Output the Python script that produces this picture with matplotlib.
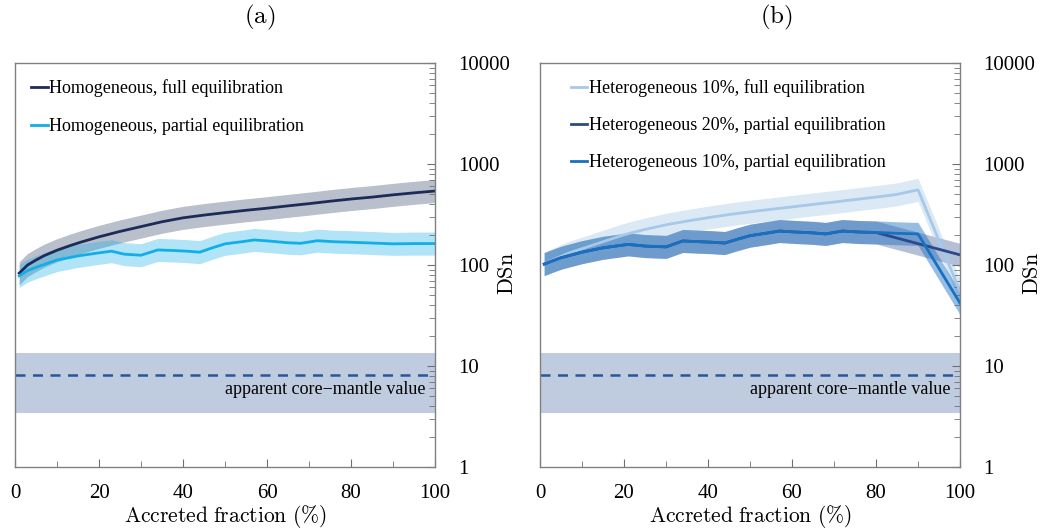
import numpy as np
from matplotlib import pyplot as plt

plt.rcParams["font.family"] = ["Liberation Serif", "DejaVu Serif"]
plt.rcParams["mathtext.fontset"] = "cm"

# panel (a): homogeneous accretion
x_hom_full = [1, 3, 5, 7, 10, 13, 16, 20, 25, 30, 35, 40, 45, 50, 55, 60, 65, 70, 75, 80, 85, 90, 95, 100]
hom_full = [83, 100, 112, 124, 140, 155, 170, 190, 215, 240, 268, 293, 312, 330, 348, 365,
            385, 405, 428, 450, 470, 495, 518, 540]
x_hom_part = [1, 3, 5, 10, 15, 20, 23, 26, 30, 34, 38, 41, 44, 47, 50, 54, 57, 61, 65, 68,
              72, 76, 80, 85, 90, 95, 100]
hom_part = [78, 88, 95, 112, 123, 132, 137, 128, 125, 141, 139, 137, 134, 148, 162, 170, 177,
            172, 166, 164, 174, 170, 168, 165, 162, 163, 163]

# panel (b): heterogeneous accretion
x_het10_full = [1, 3, 5, 7, 10, 15, 20, 25, 30, 35, 40, 45, 50, 55, 60, 65, 70, 75, 80, 85, 90, 100]
het10_full = [103, 112, 122, 132, 145, 170, 199, 225, 250, 272, 294, 316, 336, 356, 376, 398,
              420, 445, 470, 500, 555, 55]
x_het10_part = [1, 3, 5, 10, 15, 21, 25, 30, 34, 38, 41, 44, 47, 50, 54, 57, 61, 65, 68, 72,
                76, 80, 85, 90, 100]
het10_part = [102, 110, 118, 134, 148, 160, 154, 151, 173, 170, 168, 165, 180, 195, 207, 217,
              212, 208, 203, 217, 212, 210, 206, 203, 42]
x_het20_part = [1, 3, 5, 10, 15, 21, 25, 30, 34, 38, 41, 44, 47, 50, 54, 57, 61, 65, 68, 72,
                76, 80, 100]
het20_part = [102, 110, 118, 134, 148, 160, 154, 151, 173, 170, 168, 165, 180, 195, 207, 217,
              212, 208, 203, 217, 212, 210, 126]

band_factor = 1.3  # spread of the shaded envelopes (x / factor .. x * factor)

core_mantle = 8.2
core_mantle_lo = 3.4
core_mantle_hi = 13.3

xticks = [0, 20, 40, 60, 80, 100]
yticks = [1, 10, 100, 1000, 10000]


def draw_band(ax, x, y, color, band_alpha):
    y = np.array(y, dtype=float)
    ax.fill_between(x, y / band_factor, y * band_factor, color=color, alpha=band_alpha, lw=0)


def style_axes(ax):
    ax.set_yscale("log")
    ax.set_xlim(0, 100)
    ax.set_ylim(1, 10000)
    ax.yaxis.tick_right()
    ax.set_xticks(xticks)
    ax.set_xticklabels([str(t) for t in xticks])
    ax.set_xticks(range(10, 100, 20), minor=True)
    ax.set_yticks(yticks)
    ax.set_yticklabels([str(t) for t in yticks])
    ax.tick_params(axis="both", which="both", direction="in", colors="#707070",
                   labelcolor="black", labelsize=15)
    ax.tick_params(axis="x", which="major", length=6, pad=12)
    ax.tick_params(axis="x", which="minor", length=4)
    ax.tick_params(axis="y", which="major", length=6, pad=17, left=False, right=True)
    ax.tick_params(axis="y", which="minor", length=4, left=False, right=True)
    for sp in ax.spines.values():
        sp.set_color("#808080")
        sp.set_linewidth(1.0)
    ax.text(0.5, -0.122, r"$\mathrm{Accreted\ fraction\ (\%)}$", transform=ax.transAxes,
            ha="center", va="center", fontsize=15.5)
    ax.text(1.176, 0.478, r"$\mathrm{DSn}$", transform=ax.transAxes, rotation=90,
            ha="center", va="center", fontsize=16)

    ax.axhspan(core_mantle_lo, core_mantle_hi, color="#2c5597", alpha=0.3, lw=0, zorder=0)
    ax.axhline(core_mantle, color="#2c5597", ls=(0, (4, 3)), lw=1.8, zorder=1)
    ax.text(97.8, 5.8, "apparent core\u2212mantle value", ha="right", va="center", fontsize=13)


fig = plt.figure(figsize=(10.52, 5.31), dpi=100)
ax_a = fig.add_axes([15 / 1052, 1 - 467 / 531, 420 / 1052, 404 / 531])
ax_b = fig.add_axes([540 / 1052, 1 - 467 / 531, 420 / 1052, 404 / 531])

for ax in (ax_a, ax_b):
    style_axes(ax)

# panel (a)
draw_band(ax_a, x_hom_full, hom_full, "#1c2b57", 0.3)
draw_band(ax_a, x_hom_part, hom_part, "#12aee8", 0.33)
ax_a.plot(x_hom_full, hom_full, color="#1c2b57", lw=2.0, label="Homogeneous, full equilibration")
ax_a.plot(x_hom_part, hom_part, color="#12aee8", lw=2.0, label="Homogeneous, partial equilibration")

# panel (b)
draw_band(ax_b, x_het20_part, het20_part, "#2b4a8a", 0.35)
draw_band(ax_b, x_het10_full, het10_full, "#a7c8e8", 0.4)
draw_band(ax_b, x_het10_part, het10_part, "#1a70c0", 0.45)
ax_b.plot(x_het10_full, het10_full, color="#a7c8e8", lw=2.0,
          label="Heterogeneous 10%, full equilibration")
ax_b.plot(x_het20_part, het20_part, color="#2b4a8a", lw=2.0,
          label="Heterogeneous 20%, partial equilibration")
ax_b.plot(x_het10_part, het10_part, color="#1a70c0", lw=2.0,
          label="Heterogeneous 10%, partial equilibration")

ax_a.legend(loc="upper left", frameon=False, fontsize=13, handlelength=0.9,
            handletextpad=0.1, labelspacing=1.15, borderaxespad=0.5, borderpad=0.4)
ax_b.legend(loc="upper left", frameon=False, fontsize=13, handlelength=0.9,
            handletextpad=0.1, labelspacing=1.1, borderaxespad=0.5, borderpad=0.4,
            bbox_to_anchor=(0.035, 1.0))

fig.text(260 / 1052, 1 - 17 / 531, r"$\mathrm{(a)}$", ha="center", va="center", fontsize=18)
fig.text(776 / 1052, 1 - 17 / 531, r"$\mathrm{(b)}$", ha="center", va="center", fontsize=18)

fig.savefig("out.png", dpi=100)
